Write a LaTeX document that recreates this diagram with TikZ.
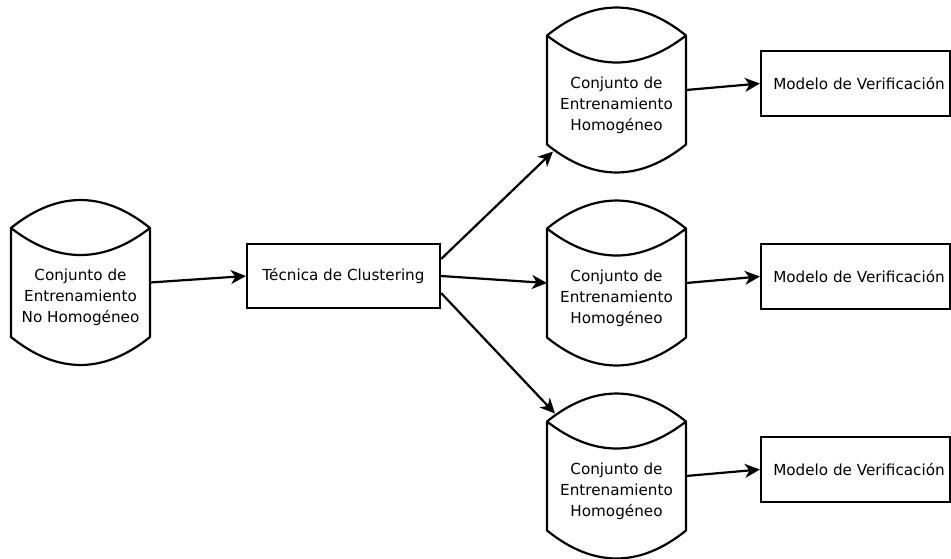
\documentclass[tikz,border=0pt]{standalone}
\usepackage{fontspec}
\setmainfont{DejaVu Sans}
\usetikzlibrary{arrows.meta}
\begin{document}
\begin{tikzpicture}[x=1pt,y=-1pt,
  line width=2.2pt,
  every node/.style={font=\fontsize{15.2pt}{21pt}\selectfont},
  store/.style={minimum width=139pt, minimum height=109pt, inner sep=0pt, outer sep=0pt},
  storetext/.style={align=center, yshift=-15pt},
  process/.style={draw, minimum width=193pt, minimum height=64pt, inner sep=0pt},
  model/.style={draw, minimum width=189pt, minimum height=65pt, inner sep=0pt},
  modeltext/.style={xshift=3.5pt},
  flow/.style={-{Stealth[length=15pt,width=14pt,inset=4.5pt]}},
  outline/.style={line join=round}
]
\useasboundingbox (0,0) rectangle (951,558);

% data stores (body only; the curved top and bottom are drawn below)
\node[store, label={[storetext]center:Conjunto de\\Entrenamiento\\No Homogéneo}] (src) at (80.5,282.5) {};
\node[store, label={[storetext]center:Conjunto de\\Entrenamiento\\Homogéneo}] (h1) at (616.5,90) {};
\node[store, label={[storetext]center:Conjunto de\\Entrenamiento\\Homogéneo}] (h2) at (616.5,283) {};
\node[store, label={[storetext]center:Conjunto de\\Entrenamiento\\Homogéneo}] (h3) at (616.5,476) {};

\foreach \n in {src,h1,h2,h3}
  \draw[outline] (\n.north west) -- (\n.south west)
     .. controls +(46.3,37.3) and +(-46.3,37.3) .. (\n.south east)
     -- (\n.north east)
     .. controls +(-46.3,-37.3) and +(46.3,-37.3) .. (\n.north west)
     .. controls +(46.3,36) and +(-46.3,36) .. (\n.north east);

% processing steps
\node[process] (clust) at (343.5,276) {Técnica de Clustering};
\node[model, label={[modeltext]center:Modelo de Verificación}] (m1) at (855.5,83.5) {};
\node[model, label={[modeltext]center:Modelo de Verificación}] (m2) at (855.5,276.5) {};
\node[model, label={[modeltext]center:Modelo de Verificación}] (m3) at (855.5,469.5) {};

% connectors
\draw[flow] (src.east) -- (clust.west);
\draw[flow] ([yshift=17pt]clust.east) -- ([shift={(6,7)}]h1.south west);
\draw[flow] (clust.east) -- (h2.west);
\draw[flow] ([yshift=-17pt]clust.east) -- ([shift={(8,-8)}]h3.north west);
\draw[flow] (h1.east) -- (m1.west);
\draw[flow] (h2.east) -- (m2.west);
\draw[flow] (h3.east) -- (m3.west);
\end{tikzpicture}
\end{document}
